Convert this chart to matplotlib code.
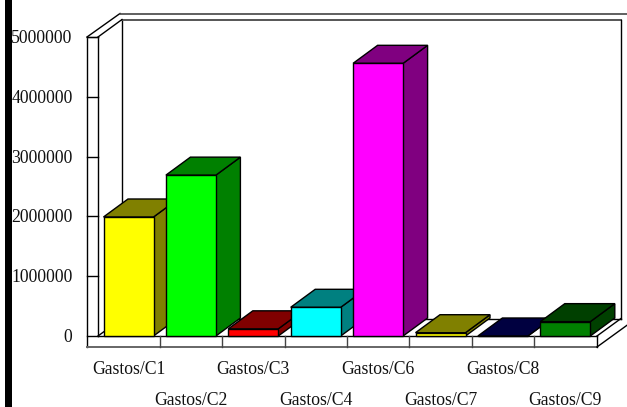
import matplotlib
matplotlib.use("Agg")
import matplotlib.pyplot as plt
from matplotlib.patches import Polygon, Rectangle

plt.rcParams["font.family"] = ["Liberation Serif", "DejaVu Serif"]

categories = ["Gastos/C1", "Gastos/C2", "Gastos/C3", "Gastos/C4", "Gastos/C6",
              "Gastos/C7", "Gastos/C8", "Gastos/C9"]
values = [1990000, 2690000, 120000, 480000, 4560000, 55000, 0, 240000]
front_colors = ["#ffff00", "#00ff00", "#ff0000", "#00ffff", "#ff00ff",
                "#ffff00", "#000080", "#008000"]
side_colors = ["#808000", "#008000", "#800000", "#008080", "#800080",
               "#808000", "#000040", "#004000"]
y_ticks = [0, 1000000, 2000000, 3000000, 4000000, 5000000]

W, H = 627, 407
# pixel layout of the fake 3d box
step = 62.4
first = 128.5
px_y0 = 336
px_per_val = 299.0 / 5000000
bar_w = 50 / step
dx = 24.5 / step
dy = 18 / px_per_val

fig = plt.figure(figsize=(W / 100, H / 100), dpi=100)
ax = fig.add_axes([0, 0, 1, 1])
ax.set_xlim(-first / step, (W - first) / step)
ax.set_ylim((px_y0 - H) / px_per_val, px_y0 / px_per_val)
ax.axis("off")


def line(xs, ys, color="black", lw=1.0, z=2):
    ax.plot(xs, ys, color=color, lw=lw, zorder=z, solid_capstyle="projecting")


top = y_ticks[-1]
left = (98 - first) / step
right = (597 - first) / step
wall_dx = 24 / step
wall_dy = 17.5 / px_per_val
outer_dx = 11 / step
outer_dy = 11 / px_per_val
back_l = left + wall_dx

# back wall
line([back_l, back_l], [wall_dy, top + wall_dy])
line([back_l, right + wall_dx], [top + wall_dy, top + wall_dy], color="#555555", lw=1.4)
line([right + wall_dx, right + wall_dx], [wall_dy, top + wall_dy])
# left wall, outer and inner
line([left - outer_dx, left - outer_dx], [-outer_dy, top])
line([left, left], [0, top])
line([left - outer_dx, left], [top, top], color="#666666")
line([left, back_l], [top, top + wall_dy])
line([left - outer_dx, back_l - 2 / step], [top, top + wall_dy + 6 / px_per_val])
line([back_l - 2 / step, W], [top + wall_dy + 6 / px_per_val] * 2, color="#444444", lw=1.2)
# floor
line([left, right], [0, 0])
line([left - outer_dx, right], [-outer_dy, -outer_dy], color="#666666", lw=1.4)
line([right, right], [0, -outer_dy])
line([left, back_l], [0, wall_dy])
line([right, right + wall_dx], [0, wall_dy])
line([right, right + 40 / step], [-outer_dy, -outer_dy + 29 / px_per_val])
line([back_l, right + wall_dx], [wall_dy, wall_dy])

# value ticks on the left wall
for v in y_ticks:
    line([left - outer_dx, left], [v, v])
    ax.text(left - outer_dx - 14.5 / step, v - 1.5 / px_per_val, str(v), ha="right", va="center",
            fontsize=12.7, color="#111111")

# separators under the bars
for i in range(len(categories) - 1):
    line([i + 0.5, i + 0.5], [0, -outer_dy], color="#444444")

# bars
for i, v in enumerate(values):
    x0 = i - bar_w / 2
    x1 = i + bar_w / 2
    z = 3 + i
    ax.add_patch(Polygon([(x1, 0), (x1 + dx, dy), (x1 + dx, v + dy), (x1, v)],
                         fc=side_colors[i], ec="black", lw=1, zorder=z))
    ax.add_patch(Polygon([(x0, v), (x0 + dx, v + dy), (x1 + dx, v + dy), (x1, v)],
                         fc=side_colors[i], ec="black", lw=1, zorder=z))
    ax.add_patch(Rectangle((x0, 0), bar_w, v, fc=front_colors[i], ec="black", lw=1, zorder=z))

# category labels, staggered on two rows
for i, name in enumerate(categories):
    row_y = -33.5 / px_per_val if i % 2 == 0 else -64.5 / px_per_val
    ax.text(i, row_y, name, ha="center", va="center", fontsize=12.7, color="#111111")

# black strip on the left edge, over the labels
fig.add_artist(Rectangle((5 / W, 0), 7 / W, 1, transform=fig.transFigure,
                         fc="black", ec="none", zorder=20))

fig.savefig("out.png", dpi=100)
